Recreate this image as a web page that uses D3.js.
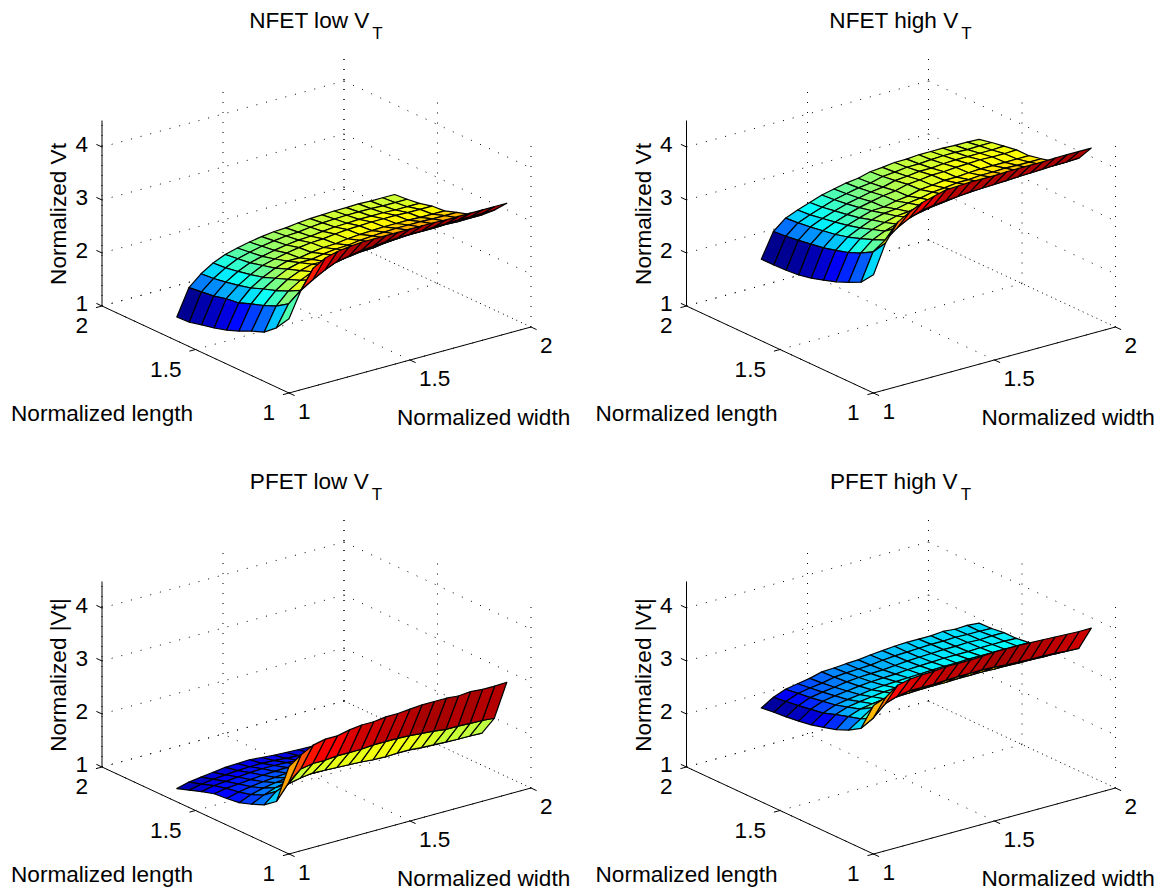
<!DOCTYPE html>
<html>
<head>
<meta charset="utf-8">
<script src="https://cdn.jsdelivr.net/npm/d3@7"></script>
<style>
  html, body { margin: 0; padding: 0; background: #fff; }
  text { font-family: "Liberation Sans", Arial, sans-serif; fill: #000; }
</style>
</head>
<body>
<div id="chart"></div>
<script>
// grid the surfaces were sampled on
const widths = [1, 1.05, 1.1, 1.15, 1.2, 1.25, 1.3, 1.35, 1.4, 1.45, 1.5, 1.55, 1.6, 1.65, 1.7, 1.75, 1.8, 1.85, 1.9];
const lengths = [1, 1.067, 1.133, 1.2, 1.267, 1.333, 1.4, 1.467, 1.533, 1.6];

const xyTicks = [1, 1.5, 2];
const zTicks = [1, 2, 3, 4];

// one row per width, one column per length
const nfetLow = [
  [2.40, 2.12, 1.93, 1.84, 1.73, 1.64, 1.57, 1.52, 1.46, 1.45],
  [2.88, 2.51, 2.36, 2.26, 2.18, 2.09, 2.06, 2.00, 1.97, 1.94],
  [3.23, 2.70, 2.58, 2.48, 2.40, 2.31, 2.25, 2.20, 2.16, 2.14],
  [3.36, 2.84, 2.72, 2.63, 2.54, 2.45, 2.39, 2.34, 2.30, 2.28],
  [3.42, 2.96, 2.82, 2.73, 2.65, 2.56, 2.50, 2.44, 2.41, 2.38],
  [3.45, 3.06, 2.87, 2.79, 2.71, 2.63, 2.56, 2.50, 2.47, 2.44],
  [3.47, 3.10, 2.88, 2.78, 2.71, 2.63, 2.61, 2.55, 2.52, 2.49],
  [3.47, 3.14, 2.92, 2.82, 2.75, 2.67, 2.65, 2.59, 2.56, 2.53],
  [3.47, 3.16, 2.95, 2.85, 2.78, 2.70, 2.68, 2.62, 2.59, 2.56],
  [3.47, 3.18, 2.96, 2.86, 2.79, 2.71, 2.69, 2.63, 2.60, 2.57],
  [3.47, 3.19, 2.99, 2.89, 2.82, 2.74, 2.72, 2.66, 2.63, 2.60],
  [3.47, 3.20, 3.01, 2.91, 2.84, 2.76, 2.74, 2.68, 2.65, 2.62],
  [3.47, 3.20, 3.02, 2.92, 2.85, 2.77, 2.75, 2.69, 2.66, 2.63],
  [3.46, 3.21, 3.02, 2.93, 2.86, 2.78, 2.76, 2.70, 2.67, 2.64],
  [3.46, 3.21, 3.02, 2.93, 2.86, 2.78, 2.76, 2.70, 2.67, 2.64],
  [3.46, 3.22, 3.03, 2.93, 2.86, 2.78, 2.76, 2.70, 2.67, 2.65],
  [3.46, 3.22, 3.02, 2.92, 2.85, 2.77, 2.75, 2.69, 2.66, 2.64],
  [3.46, 3.22, 3.02, 2.92, 2.85, 2.77, 2.75, 2.69, 2.66, 2.64],
  [3.46, 3.22, 3.02, 2.92, 2.85, 2.77, 2.75, 2.69, 2.66, 2.64]
];

const nfetHigh = [
  [3.23, 2.98, 2.87, 2.77, 2.69, 2.62, 2.57, 2.55, 2.54, 2.54],
  [3.77, 3.49, 3.36, 3.26, 3.19, 3.13, 3.09, 3.05, 3.02, 3.00],
  [4.10, 3.65, 3.55, 3.46, 3.38, 3.32, 3.28, 3.24, 3.21, 3.19],
  [4.23, 3.82, 3.65, 3.57, 3.49, 3.43, 3.38, 3.34, 3.30, 3.28],
  [4.34, 3.94, 3.72, 3.64, 3.58, 3.51, 3.46, 3.42, 3.38, 3.36],
  [4.40, 4.02, 3.78, 3.70, 3.64, 3.58, 3.53, 3.49, 3.46, 3.44],
  [4.46, 4.06, 3.83, 3.72, 3.66, 3.59, 3.58, 3.54, 3.51, 3.49],
  [4.47, 4.08, 3.87, 3.77, 3.71, 3.64, 3.63, 3.59, 3.56, 3.54],
  [4.48, 4.10, 3.90, 3.80, 3.74, 3.67, 3.66, 3.62, 3.59, 3.57],
  [4.48, 4.12, 3.95, 3.85, 3.79, 3.73, 3.72, 3.68, 3.65, 3.63],
  [4.48, 4.13, 3.97, 3.87, 3.81, 3.75, 3.74, 3.70, 3.67, 3.65],
  [4.49, 4.14, 4.00, 3.90, 3.84, 3.78, 3.77, 3.73, 3.70, 3.68],
  [4.49, 4.15, 4.00, 3.90, 3.84, 3.78, 3.77, 3.73, 3.70, 3.68],
  [4.49, 4.16, 4.02, 3.92, 3.86, 3.80, 3.79, 3.75, 3.72, 3.70],
  [4.49, 4.17, 4.02, 3.92, 3.86, 3.81, 3.80, 3.76, 3.73, 3.70],
  [4.50, 4.18, 4.03, 3.93, 3.87, 3.81, 3.81, 3.76, 3.73, 3.70],
  [4.50, 4.19, 4.02, 3.92, 3.86, 3.81, 3.80, 3.76, 3.72, 3.69],
  [4.50, 4.19, 4.02, 3.92, 3.86, 3.81, 3.80, 3.76, 3.73, 3.69],
  [4.50, 4.20, 4.02, 3.92, 3.86, 3.81, 3.81, 3.77, 3.73, 3.68]
];

const pfetLow = [
  [2.65, 1.88, 1.71, 1.61, 1.53, 1.50, 1.48, 1.41, 1.33, 1.25],
  [2.81, 2.17, 1.90, 1.72, 1.62, 1.56, 1.52, 1.46, 1.38, 1.31],
  [2.93, 2.37, 1.98, 1.80, 1.68, 1.60, 1.54, 1.48, 1.41, 1.34],
  [2.98, 2.41, 2.03, 1.85, 1.72, 1.63, 1.56, 1.50, 1.43, 1.37],
  [2.98, 2.41, 2.06, 1.88, 1.75, 1.65, 1.58, 1.52, 1.45, 1.40],
  [3.03, 2.43, 2.05, 1.88, 1.77, 1.67, 1.59, 1.53, 1.46, 1.41],
  [3.06, 2.43, 2.04, 1.88, 1.78, 1.68, 1.60, 1.53, 1.46, 1.42],
  [3.06, 2.43, 2.03, 1.88, 1.77, 1.67, 1.59, 1.52, 1.45, 1.40],
  [3.09, 2.45, 2.02, 1.87, 1.76, 1.66, 1.58, 1.50, 1.43, 1.38],
  [3.09, 2.45, 2.00, 1.86, 1.75, 1.65, 1.57, 1.49, 1.42, 1.37],
  [3.11, 2.45, 1.99, 1.85, 1.74, 1.64, 1.56, 1.48, 1.41, 1.36],
  [3.13, 2.44, 2.00, 1.85, 1.73, 1.63, 1.55, 1.47, 1.40, 1.35],
  [3.13, 2.42, 2.00, 1.84, 1.72, 1.62, 1.54, 1.46, 1.39, 1.34],
  [3.13, 2.40, 1.98, 1.83, 1.71, 1.61, 1.53, 1.45, 1.38, 1.33],
  [3.11, 2.37, 1.97, 1.82, 1.70, 1.60, 1.52, 1.44, 1.37, 1.32],
  [3.13, 2.37, 1.96, 1.81, 1.69, 1.59, 1.51, 1.43, 1.36, 1.32],
  [3.11, 2.36, 1.95, 1.80, 1.68, 1.58, 1.50, 1.43, 1.36, 1.31],
  [3.11, 2.35, 1.95, 1.80, 1.67, 1.57, 1.49, 1.42, 1.35, 1.30],
  [3.12, 2.33, 1.94, 1.79, 1.66, 1.56, 1.48, 1.41, 1.34, 1.30]
];

const pfetHigh = [
  [3.80, 3.26, 3.12, 3.02, 2.95, 2.89, 2.85, 2.82, 2.80, 2.77],
  [3.89, 3.39, 3.27, 3.20, 3.13, 3.05, 3.01, 2.97, 2.94, 2.91],
  [4.06, 3.60, 3.42, 3.28, 3.21, 3.14, 3.10, 3.06, 3.03, 3.00],
  [4.11, 3.68, 3.50, 3.32, 3.25, 3.18, 3.14, 3.10, 3.07, 3.04],
  [4.13, 3.72, 3.50, 3.35, 3.28, 3.21, 3.17, 3.13, 3.10, 3.08],
  [4.14, 3.72, 3.51, 3.37, 3.31, 3.24, 3.20, 3.17, 3.15, 3.14],
  [4.16, 3.72, 3.52, 3.38, 3.32, 3.26, 3.22, 3.19, 3.17, 3.15],
  [4.16, 3.73, 3.52, 3.39, 3.33, 3.27, 3.23, 3.20, 3.18, 3.17],
  [4.16, 3.74, 3.52, 3.40, 3.33, 3.28, 3.24, 3.21, 3.19, 3.18],
  [4.17, 3.74, 3.53, 3.41, 3.35, 3.29, 3.26, 3.23, 3.22, 3.21],
  [4.19, 3.74, 3.53, 3.41, 3.36, 3.30, 3.27, 3.25, 3.24, 3.23],
  [4.19, 3.73, 3.53, 3.41, 3.36, 3.31, 3.28, 3.26, 3.25, 3.25],
  [4.19, 3.71, 3.52, 3.41, 3.36, 3.31, 3.29, 3.27, 3.26, 3.26],
  [4.18, 3.70, 3.52, 3.41, 3.36, 3.32, 3.29, 3.28, 3.27, 3.26],
  [4.17, 3.69, 3.51, 3.41, 3.36, 3.32, 3.29, 3.28, 3.27, 3.26],
  [4.16, 3.69, 3.51, 3.41, 3.36, 3.32, 3.30, 3.29, 3.28, 3.28],
  [4.15, 3.68, 3.50, 3.41, 3.36, 3.32, 3.30, 3.28, 3.27, 3.26],
  [4.14, 3.66, 3.50, 3.41, 3.36, 3.32, 3.30, 3.29, 3.27, 3.27],
  [4.14, 3.65, 3.49, 3.41, 3.37, 3.32, 3.29, 3.29, 3.26, 3.25]
];

// colorTop is the upper colour limit of each panel
const panels = [
  { title: "NFET low V", zLabel: "Normalized Vt", values: nfetLow, colorTop: 3.55, dx: 0, dy: 0 },
  { title: "NFET high V", zLabel: "Normalized Vt", values: nfetHigh, colorTop: 4.58, dx: 584.5, dy: 0 },
  { title: "PFET low V", zLabel: "Normalized |Vt|", values: pfetLow, colorTop: 3.21, dx: 0, dy: 461 },
  { title: "PFET high V", zLabel: "Normalized |Vt|", values: pfetHigh, colorTop: 4.25, dx: 584.5, dy: 461 }
];

const svg = d3.select("#chart").append("svg")
  .attr("width", 1161)
  .attr("height", 891)
  .style("display", "block");

// the box is skewed, so each data axis gets its own pair of pixel scales
const wX = d3.scaleLinear().domain([1, 2]).range([0, 242]);
const wY = d3.scaleLinear().domain([1, 2]).range([0, -66]);
const lX = d3.scaleLinear().domain([1, 2]).range([0, -187]);
const lY = d3.scaleLinear().domain([1, 2]).range([0, -87]);
const zY = d3.scaleLinear().domain([1, 4.5]).range([0, -185.5]);

const originX = 289, originY = 393;

function project(w, l, z) {
  return [originX + wX(w) + lX(l), originY + wY(w) + lY(l) + zY(z)];
}

// matlab jet
const jet = d3.scaleLinear()
  .domain([0, 0.125, 0.375, 0.625, 0.875, 1])
  .range(["#00008f", "#0000ff", "#00ffff", "#ffff00", "#ff0000", "#800000"])
  .clamp(true);

const line = d3.line();

function drawPanel(p) {
  const g = svg.append("g").attr("transform", `translate(${p.dx},${p.dy})`);

  // dotted box walls and floor
  const grid = g.append("g")
    .attr("fill", "none")
    .attr("stroke", "#000")
    .attr("stroke-width", 1)
    .attr("stroke-dasharray", "1 9");

  const gridLine = (a, b) => grid.append("path").attr("d", line([project(...a), project(...b)]));

  xyTicks.forEach(t => {
    gridLine([t, 1, 1], [t, 2, 1]);
    gridLine([1, t, 1], [2, t, 1]);
    gridLine([t, 2, 1], [t, 2, 4.5]);
    gridLine([2, t, 1], [2, t, 4.5]);
  });
  zTicks.forEach(t => {
    gridLine([1, 2, t], [2, 2, t]);
    gridLine([2, 2, t], [2, 1, t]);
  });

  // solid axes
  const axis = g.append("g").attr("fill", "none").attr("stroke", "#000").attr("stroke-width", 1);
  const axisLine = (a, b) => axis.append("path").attr("d", line([project(...a), project(...b)]));

  axisLine([1, 1, 1], [2, 1, 1]);
  axisLine([1, 1, 1], [1, 2, 1]);
  axisLine([1, 2, 1], [1, 2, 4.5]);

  xyTicks.forEach(t => {
    axisLine([t, 1, 1], [t, 0.97, 1]);
    axisLine([1, t, 1], [0.975, t, 1]);
  });
  zTicks.forEach(t => axisLine([1, 2, t], [1, 2.03, t]));

  // surface, far cells first
  const colour = d3.scaleLinear().domain([d3.min(p.values.flat()), p.colorTop]).range([0, 1]);
  const cells = [];
  for (let i = widths.length - 2; i >= 0; i--) {
    for (let j = lengths.length - 2; j >= 0; j--) {
      cells.push({ i, j });
    }
  }

  g.append("g").selectAll("path")
    .data(cells)
    .join("path")
    .attr("d", ({ i, j }) => line([
      project(widths[i], lengths[j], p.values[i][j]),
      project(widths[i + 1], lengths[j], p.values[i + 1][j]),
      project(widths[i + 1], lengths[j + 1], p.values[i + 1][j + 1]),
      project(widths[i], lengths[j + 1], p.values[i][j + 1])
    ]) + "Z")
    .attr("fill", ({ i, j }) => jet(colour(p.values[i][j])))
    .attr("stroke", "#000")
    .attr("stroke-width", 1.2)
    .attr("stroke-linejoin", "round");

  // text
  const fontSize = 22.6;
  const title = g.append("text")
    .attr("x", 316)
    .attr("y", 28)
    .attr("text-anchor", "middle")
    .attr("font-size", fontSize);
  title.append("tspan").text(p.title);
  title.append("tspan").attr("dx", 3).attr("dy", 10.5).attr("font-size", 17).text("T");

  g.append("text")
    .attr("transform", "translate(66,214) rotate(-90)")
    .attr("text-anchor", "middle")
    .attr("font-size", fontSize)
    .text(p.zLabel);

  const tickFormat = d3.format("");
  zTicks.forEach(t => {
    g.append("text")
      .attr("x", 88)
      .attr("y", project(1, 2, t)[1] + 5)
      .attr("text-anchor", "end")
      .attr("font-size", fontSize)
      .text(tickFormat(t));
  });

  xyTicks.forEach(t => {
    const [lx, ly] = project(1, t, 1);
    g.append("text")
      .attr("x", lx - 14)
      .attr("y", ly + 27)
      .attr("text-anchor", "end")
      .attr("font-size", fontSize)
      .text(tickFormat(t));
    const [wx, wy] = project(t, 1, 1);
    g.append("text")
      .attr("x", wx + 9)
      .attr("y", wy + 26)
      .attr("text-anchor", "start")
      .attr("font-size", fontSize)
      .text(tickFormat(t));
  });

  g.append("text")
    .attr("x", 11)
    .attr("y", 421)
    .attr("font-size", fontSize)
    .text("Normalized length");

  g.append("text")
    .attr("x", 397)
    .attr("y", 425)
    .attr("font-size", fontSize)
    .text("Normalized width");
}

panels.forEach(drawPanel);
</script>
</body>
</html>
